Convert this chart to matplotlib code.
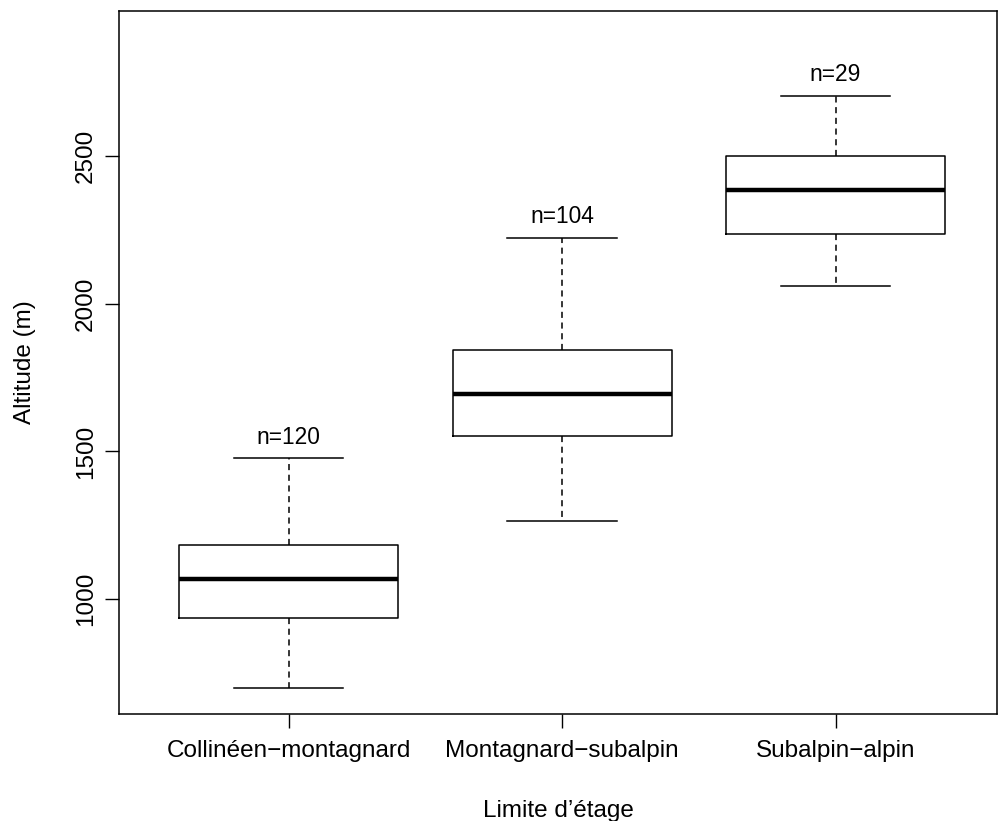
import matplotlib
matplotlib.use("Agg")
import matplotlib.pyplot as plt

plt.rcParams['font.family'] = ['Liberation Sans', 'DejaVu Sans']

categories = ["Collinéen−montagnard", "Montagnard−subalpin", "Subalpin−alpin"]
whislo = [699, 1264, 2061]
q1 = [936, 1551, 2237]
med = [1068, 1693, 2385]
q3 = [1183, 1842, 2500]
whishi = [1476, 2223, 2703]
counts = [120, 104, 29]
yticks = [1000, 1500, 2000, 2500]

fig = plt.figure(figsize=(9.99, 8.21), dpi=100)
ax = fig.add_axes([119/999, 107/821, (997-119)/999, (714-11)/821])

stats = []
for i in range(3):
    stats.append(dict(label=categories[i], whislo=whislo[i], q1=q1[i], med=med[i],
                      q3=q3[i], whishi=whishi[i], fliers=[]))

ax.bxp(stats, positions=[1, 2, 3], widths=0.8, showfliers=False,
       boxprops=dict(color='black', linewidth=1.1),
       medianprops=dict(color='black', linewidth=3.2),
       whiskerprops=dict(color='black', linewidth=1.1, linestyle=(0, (4, 3))),
       capprops=dict(color='black', linewidth=1.1),
       capwidths=0.4)

for i in range(3):
    ax.annotate(f"n={counts[i]}", xy=(i + 1, whishi[i]), xytext=(0, 7),
                textcoords='offset points', ha='center', va='bottom', fontsize=16.4)

ax.set_xlim(0.38, 3.59)
ax.set_ylim(611, 2991)
ax.set_yticks(yticks)
ax.set_yticklabels([str(v) for v in yticks], rotation=90, va='center')
ax.set_xticks([1, 2, 3])
ax.set_xticklabels(categories)
ax.tick_params(axis='both', labelsize=17.5, length=10, width=1.0, pad=6)
ax.tick_params(axis='x', pad=9)

for sp in ax.spines.values():
    sp.set_linewidth(1.1)

ax.set_ylabel("Altitude (m)", fontsize=17.5, labelpad=28)
ax.set_xlabel("Limite d’étage", fontsize=17.5, labelpad=27)

fig.savefig("out.png", dpi=100)
